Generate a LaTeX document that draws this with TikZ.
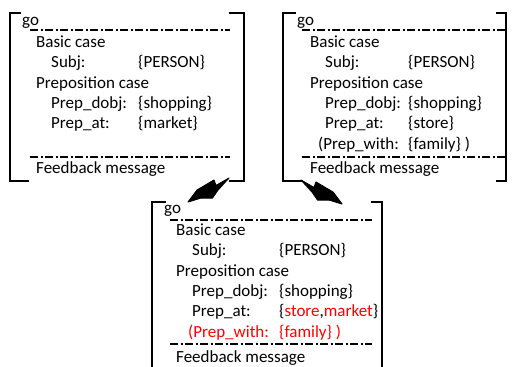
\documentclass[tikz,border=0pt]{standalone}
\usepackage{fontspec}
\setmainfont{Carlito}
\definecolor{redtxt}{RGB}{255,0,0}
\tikzset{
  txt/.style={anchor=base west,inner sep=0pt,font=\fontsize{17}{20}\selectfont},
  bracket/.style={line width=2pt,line cap=rect},
  sep/.style={line width=1.3pt,dash pattern=on 8pt off 2.5pt on 2pt off 2.5pt},
  bolt/.style={fill=black,draw=black,line width=1pt,line join=round}
}
\begin{document}
\begin{tikzpicture}[x=1pt,y=-1pt]
\useasboundingbox (0,0) rectangle (520,367);
% ---------- left box ----------
\draw[bracket] (20,13) -- (10,13) -- (10,181) -- (28,181);
\draw[bracket] (230,13) -- (244,13) -- (244,181) -- (230,181);
\node[txt] (lgo) at (22,25) {go};
\draw[sep] (30,30) -- (230,30);
\node[txt] (lbc) at (36,47) {Basic case};
\node[txt] (lsubj) at (51,67.5) {Subj:};
\node[txt] (lperson) at (138,67.5) {\{PERSON\}};
\node[txt] (lpc) at (36,88) {Preposition case};
\node[txt] (ldobj) at (51,108) {Prep\_dobj:};
\node[txt] (lshop) at (138,108) {\{shopping\}};
\node[txt] (lat) at (51,128.5) {Prep\_at:};
\node[txt] (lmarket) at (138,128.5) {\{market\}};
\draw[sep] (30,157) -- (230,157);
\node[txt] (lfb) at (36,173) {Feedback message};
% ---------- right box ----------
\draw[bracket] (295,13) -- (283,13) -- (283,181) -- (302,181);
\draw[bracket] (497,13) -- (506,13) -- (506,181) -- (497,181);
\node[txt] (rgo) at (297,25) {go};
\draw[sep] (302,30) -- (505,30);
\node[txt] (rbc) at (310,47) {Basic case};
\node[txt] (rsubj) at (325,67.5) {Subj:};
\node[txt] (rperson) at (408,67.5) {\{PERSON\}};
\node[txt] (rpc) at (310,88) {Preposition case};
\node[txt] (rdobj) at (325,108) {Prep\_dobj:};
\node[txt] (rshop) at (408,108) {\{shopping\}};
\node[txt] (rat) at (325,128.5) {Prep\_at:};
\node[txt] (rstore) at (408,128.5) {\{store\}};
\node[txt] (rwith) at (318,149) {(Prep\_with:};
\node[txt] (rfam) at (408,149) {\{family\} )};
\draw[sep] (302,157) -- (505,157);
\node[txt] (rfb) at (310,173) {Feedback message};
% ---------- bottom box ----------
\draw[bracket] (165,202) -- (152,202) -- (152,370);
\draw[bracket] (372,202) -- (382,202) -- (382,370);
\node[txt] (bgo) at (164,213.5) {go};
\draw[sep] (170,220) -- (372,220);
\node[txt] (bbc) at (176,235) {Basic case};
\node[txt] (bsubj) at (192,255.5) {Subj:};
\node[txt] (bperson) at (279,255.5) {\{PERSON\}};
\node[txt] (bpc) at (176,276) {Preposition case};
\node[txt] (bdobj) at (192,296) {Prep\_dobj:};
\node[txt] (bshop) at (279,296) {\{shopping\}};
\node[txt] (bat) at (192,316.5) {Prep\_at:};
\node[txt] (bsm) at (279,316.5) {\{\textcolor{redtxt}{store},\textcolor{redtxt}{market}\}};
\node[txt,text=redtxt] (bwith) at (188,337) {(Prep\_with:};
\node[txt,text=redtxt] (bfam) at (279,337) {\{family\} )};
\draw[sep] (170,344) -- (372,344);
\node[txt] (bfb) at (176,362) {Feedback message};
% ---------- lightning arrows ----------
\fill[bolt] (188,202) -- (197,190) -- (203,186.5) -- (214,180) -- (216,185.5)
  -- (229,178) -- (218,190) -- (212.5,198) -- (201,198) -- cycle;
\begin{scope}[xshift=530pt,xscale=-1,yshift=-2pt]
\fill[bolt] (188,202) -- (197,190) -- (203,186.5) -- (214,180) -- (216,185.5)
  -- (229,178) -- (218,190) -- (212.5,198) -- (201,198) -- cycle;
\end{scope}
\end{tikzpicture}
\end{document}
